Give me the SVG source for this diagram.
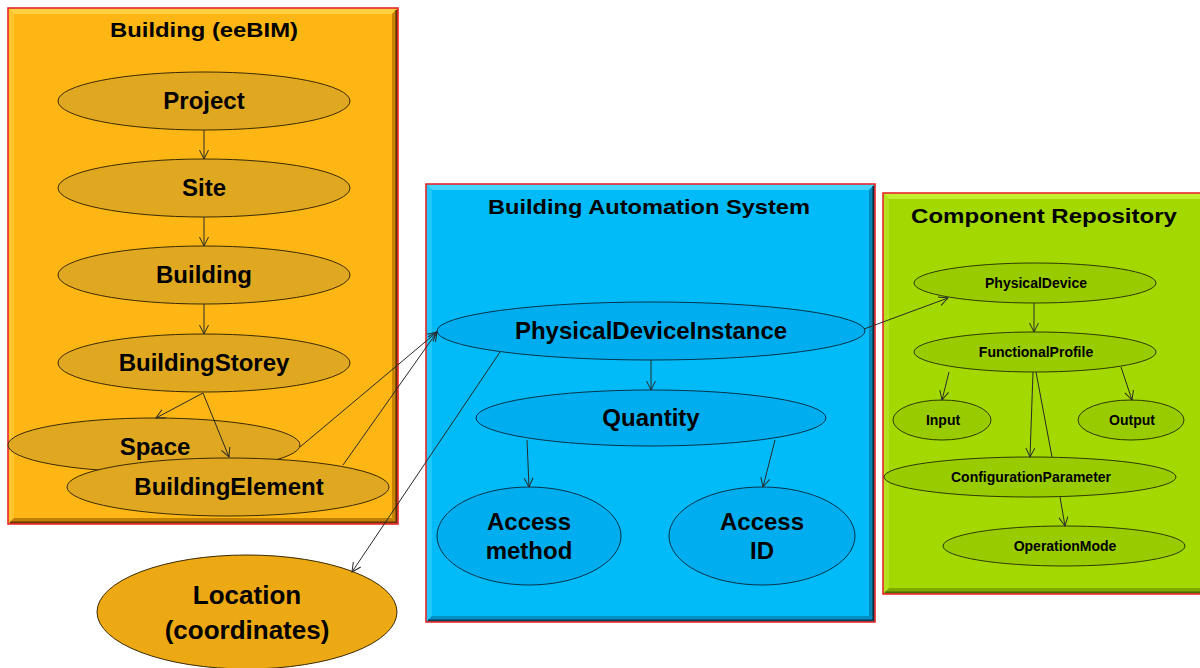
<svg xmlns="http://www.w3.org/2000/svg" width="1200" height="668" viewBox="0 0 1200 668">
  <defs>
    <style>
      text { font-family: "Liberation Sans", Arial, sans-serif; font-weight: bold; fill: #000; text-anchor: middle; }
      .title { font-size: 21px; }
      .big { font-size: 24px; }
      .loc { font-size: 26px; }
      .small { font-size: 14px; }
      .frame { fill: none; stroke: #e8262a; stroke-width: 1.6; }
      .n-bim { fill: #e0a820; stroke: #3a2a05; stroke-width: 1; }
      .n-loc { fill: #eca913; stroke: #3a2a05; stroke-width: 1; }
      .n-bas { fill: #00aeef; stroke: #05324a; stroke-width: 1; }
      .n-rep { fill: #99cc00; stroke: #2a3a00; stroke-width: 1; }
      .edge { fill: none; stroke: #2a2a2a; stroke-width: 1; marker-end: url(#arrow); }
      .edge-plain { fill: none; stroke: #2a2a2a; stroke-width: 1; }
    </style>
    <marker id="arrow" markerWidth="12" markerHeight="12" refX="10" refY="5" orient="auto" markerUnits="userSpaceOnUse">
      <path d="M1,0.5 L10,5 L1,9.5" fill="none" stroke="#2a2a2a" stroke-width="1"/>
    </marker>
  </defs>

  <rect x="0" y="0" width="1200" height="668" fill="#ffffff"/>

  <!-- Building (eeBIM) panel -->
  <g id="panel-bim">
    <rect x="8" y="8" width="390" height="516" fill="#fdb614"/>
    <polygon points="8,8 398,8 392,14 14,14" fill="#ffd040"/>
    <polygon points="8,8 14,14 14,518 8,524" fill="#fec52e"/>
    <polygon points="398,8 398,524 392,518 392,14" fill="#c88500"/>
    <polygon points="8,524 398,524 392,518 14,518" fill="#c07f00"/>
    <line x1="396.5" y1="10" x2="396.5" y2="523" stroke="#5a2a00" stroke-width="2"/>
    <line x1="10" y1="522.5" x2="397" y2="522.5" stroke="#6a3500" stroke-width="2"/>
    <rect class="frame" x="8" y="8" width="390" height="516"/>
    <text class="title" x="204" y="37" textLength="188" lengthAdjust="spacingAndGlyphs">Building (eeBIM)</text>
  </g>

  <!-- Building Automation System panel -->
  <g id="panel-bas">
    <rect x="426" y="184" width="449" height="438" fill="#00bbf8"/>
    <polygon points="426,184 875,184 869,190 432,190" fill="#45d5ff"/>
    <polygon points="426,184 432,190 432,616 426,622" fill="#20c8ff"/>
    <polygon points="875,184 875,622 869,616 869,190" fill="#0089b8"/>
    <polygon points="426,622 875,622 869,616 432,616" fill="#0090c4"/>
    <line x1="873.5" y1="186" x2="873.5" y2="621" stroke="#0a2a3a" stroke-width="2"/>
    <line x1="428" y1="620.5" x2="874" y2="620.5" stroke="#0a3a50" stroke-width="2"/>
    <rect class="frame" x="426" y="184" width="449" height="438"/>
    <text class="title" x="649" y="214" textLength="322" lengthAdjust="spacingAndGlyphs">Building Automation System</text>
  </g>

  <!-- Component Repository panel -->
  <g id="panel-rep">
    <rect x="883" y="193" width="322" height="401" fill="#a3d800"/>
    <polygon points="883,193 1205,193 1205,199 889,199" fill="#c4ee30"/>
    <polygon points="883,193 889,199 889,588 883,594" fill="#b3e220"/>
    <polygon points="883,594 1205,594 1205,588 889,588" fill="#7fa800"/>
    <line x1="885" y1="592.5" x2="1205" y2="592.5" stroke="#4a6a00" stroke-width="2"/>
    <rect class="frame" x="883" y="193" width="322" height="401"/>
    <text class="title" x="1044" y="223" textLength="266" lengthAdjust="spacingAndGlyphs">Component Repository</text>
  </g>

  <!-- Building model nodes -->
  <g id="node-project">
    <ellipse class="n-bim" cx="204" cy="101" rx="146" ry="29"/>
    <text class="big" x="204" y="109">Project</text>
  </g>
  <g id="node-site">
    <ellipse class="n-bim" cx="204" cy="188" rx="146" ry="29"/>
    <text class="big" x="204" y="196">Site</text>
  </g>
  <g id="node-building">
    <ellipse class="n-bim" cx="204" cy="275" rx="146" ry="29"/>
    <text class="big" x="204" y="283">Building</text>
  </g>
  <g id="node-storey">
    <ellipse class="n-bim" cx="204" cy="363" rx="146" ry="29"/>
    <text class="big" x="204" y="371">BuildingStorey</text>
  </g>
  <g id="node-space">
    <ellipse class="n-bim" cx="154" cy="445" rx="146" ry="27"/>
    <text class="big" x="155" y="455">Space</text>
  </g>
  <g id="node-element">
    <ellipse class="n-bim" cx="228" cy="487" rx="161" ry="29"/>
    <text class="big" x="229" y="495">BuildingElement</text>
  </g>
  <g id="node-location">
    <ellipse class="n-loc" cx="247" cy="612" rx="150" ry="57"/>
    <text class="loc" x="247" y="604">Location</text>
    <text class="loc" x="247" y="639">(coordinates)</text>
  </g>

  <!-- Building automation nodes -->
  <g id="node-pdi">
    <ellipse class="n-bas" cx="651" cy="331" rx="214" ry="29"/>
    <text class="big" x="651" y="339">PhysicalDeviceInstance</text>
  </g>
  <g id="node-quantity">
    <ellipse class="n-bas" cx="651" cy="418" rx="175" ry="28"/>
    <text class="big" x="651" y="426">Quantity</text>
  </g>
  <g id="node-access-method">
    <ellipse class="n-bas" cx="529" cy="536" rx="92" ry="49"/>
    <text class="big" x="529" y="530">Access</text>
    <text class="big" x="529" y="559">method</text>
  </g>
  <g id="node-access-id">
    <ellipse class="n-bas" cx="762" cy="536" rx="93" ry="49"/>
    <text class="big" x="762" y="530">Access</text>
    <text class="big" x="762" y="559">ID</text>
  </g>

  <!-- Component repository nodes -->
  <g id="node-physical-device">
    <ellipse class="n-rep" cx="1035" cy="283" rx="121" ry="20"/>
    <text class="small" x="1036" y="288">PhysicalDevice</text>
  </g>
  <g id="node-functional-profile">
    <ellipse class="n-rep" cx="1035" cy="352" rx="121" ry="20"/>
    <text class="small" x="1036" y="357">FunctionalProfile</text>
  </g>
  <g id="node-input">
    <ellipse class="n-rep" cx="942" cy="420" rx="49" ry="20"/>
    <text class="small" x="943" y="425">Input</text>
  </g>
  <g id="node-output">
    <ellipse class="n-rep" cx="1131" cy="420" rx="53" ry="20"/>
    <text class="small" x="1132" y="425">Output</text>
  </g>
  <g id="node-config">
    <ellipse class="n-rep" cx="1030" cy="477" rx="146" ry="20"/>
    <text class="small" x="1031" y="482" textLength="160" lengthAdjust="spacingAndGlyphs">ConfigurationParameter</text>
  </g>
  <g id="node-opmode">
    <ellipse class="n-rep" cx="1064" cy="546" rx="121" ry="20"/>
    <text class="small" x="1065" y="551">OperationMode</text>
  </g>

  <!-- Connectors -->
  <g id="connectors">
    <line class="edge" x1="204" y1="130" x2="204" y2="159"/>
    <line class="edge" x1="204" y1="217" x2="204" y2="246"/>
    <line class="edge" x1="204" y1="304" x2="204" y2="334"/>
    <line class="edge" x1="203" y1="393" x2="156" y2="418"/>
    <line class="edge" x1="203" y1="393" x2="229" y2="457"/>
    <line class="edge" x1="300" y1="447" x2="437" y2="332"/>
    <line class="edge" x1="343" y1="465" x2="437" y2="332"/>
    <line class="edge" x1="500" y1="352" x2="352" y2="572"/>
    <line class="edge" x1="651" y1="360" x2="651" y2="390"/>
    <line class="edge" x1="527" y1="440" x2="529" y2="487"/>
    <line class="edge" x1="775" y1="440" x2="763" y2="487"/>
    <line class="edge" x1="864" y1="329" x2="948" y2="298"/>
    <line class="edge" x1="1034" y1="303" x2="1034" y2="332"/>
    <line class="edge" x1="949" y1="372" x2="942" y2="400"/>
    <line class="edge" x1="1121" y1="367" x2="1132" y2="400"/>
    <line class="edge" x1="1033" y1="372" x2="1030" y2="457"/>
    <!-- FunctionalProfile to OperationMode runs behind ConfigurationParameter -->
    <line class="edge-plain" x1="1036" y1="372" x2="1052" y2="457"/>
    <line class="edge" x1="1060" y1="497" x2="1065" y2="526"/>
  </g>
</svg>
